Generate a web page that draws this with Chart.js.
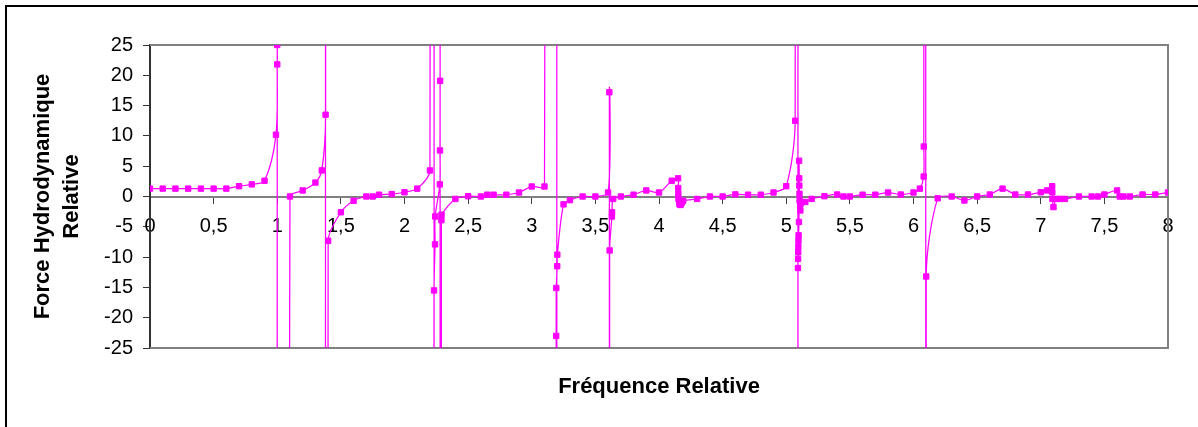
<!DOCTYPE html>
<html>
<head>
<meta charset="utf-8">
<script src="https://cdn.jsdelivr.net/npm/chart.js@4/dist/chart.umd.min.js"></script>
<style>
  html, body { margin: 0; padding: 0; background: #fff; }
  #c { display: block; }
</style>
</head>
<body>
<canvas id="c" width="1198" height="427"></canvas>
<script>
// Relative frequency (x) and relative hydrodynamic force (y).
// Values of +/-1000 stand for the off-scale branches at the resonances.
const freq = [
  0, 0.1, 0.2, 0.3, 0.4, 0.5, 0.6, 0.7, 0.8, 0.9,
  0.99, 1.0, 1.0, 1.0, 1.1, 1.2, 1.3, 1.35, 1.38, 1.38, 1.381,
  1.4, 1.5, 1.6, 1.7, 1.75, 1.8, 1.9, 2.0, 2.1, 2.2,
  2.23, 2.231, 2.232, 2.24, 2.241, 2.278, 2.279, 2.28, 2.28, 2.281, 2.29, 2.291,
  2.4, 2.5, 2.6, 2.65, 2.7, 2.8, 2.9, 3.0, 3.1,
  3.19, 3.191, 3.192, 3.193, 3.2, 3.201, 3.25, 3.3, 3.4, 3.5, 3.6,
  3.61, 3.611, 3.612, 3.63, 3.631, 3.64, 3.7, 3.8, 3.9, 4.0, 4.1,
  4.15, 4.151, 4.152, 4.153, 4.16, 4.161, 4.17, 4.18, 4.19, 4.3, 4.4, 4.5,
  4.6, 4.7, 4.8, 4.9, 5.0, 5.07,
  5.09, 5.091, 5.092, 5.093, 5.094, 5.095, 5.096, 5.097, 5.1, 5.101, 5.102, 5.103,
  5.104, 5.105, 5.11, 5.111, 5.15, 5.2, 5.3, 5.4, 5.45, 5.5, 5.6, 5.7, 5.8, 5.9,
  6.0, 6.05, 6.08, 6.081, 6.095, 6.096, 6.1, 6.19, 6.3, 6.4, 6.5, 6.6, 6.7, 6.8,
  6.9, 7.0, 7.05, 7.09, 7.091, 7.092, 7.1, 7.12, 7.15, 7.19, 7.3, 7.4, 7.45, 7.5,
  7.6, 7.62, 7.65, 7.7, 7.8, 7.9, 8.0
];
const force = [
  1.3, 1.3, 1.3, 1.3, 1.3, 1.3, 1.3, 1.7, 2.0, 2.6,
  10.2, 21.8, 25, -1000, 0, 1.0, 2.3, 4.3, 13.5, 1000, -1000,
  -7.3, -2.6, -0.7, 0, 0, 0.3, 0.4, 0.7, 1.3, 4.3,
  1000, -1000, -15.5, -7.9, -3.3, 2.0, 7.6, 19.1, 1000, -1000, -3.9, -3.0,
  -0.4, 0.05, 0, 0.3, 0.3, 0.3, 0.66, 1.65, 1.65,
  1000, -1000, -23.0, -15.1, -11.5, -9.6, -1.3, -0.6, 0, 0, 0.66,
  17.2, -1000, -8.9, -3.3, -2.6, -0.4, 0, 0.3, 1.0, 0.66, 2.6,
  3.0, 1.4, 0.45, -0.4, -0.9, -1.3, -1.4, -1.0, -0.7, -0.4, 0, 0,
  0.35, 0.3, 0.3, 0.66, 1.7, 12.5,
  1000, -1000, -11.8, -10.3, -9.2, -8.3, -7.3, -6.4, -4.2, 5.9, 3.0, 1.8,
  0.45, -0.66, -1.3, -2.3, -0.9, -0.4, 0.05, 0.33, 0, 0, 0.3, 0.3, 0.66, 0.33,
  0.66, 1.3, 3.3, 8.25, 1000, -1000, -13.2, -0.3, 0, -0.66, 0, 0.33, 1.3, 0.33,
  0.33, 0.7, 1.0, 1.7, 0.7, -0.4, -1.75, -0.4, -0.4, -0.4, 0, 0, 0, 0.33,
  1.0, 0, 0, 0, 0.33, 0.33, 0.66
];
const yRange = [-25, 25];
const xRange = [0, 8];
const yStep = 5;
const xStep = 0.5;
const xTitle = 'Fréquence Relative';
const yTitle = ['Force Hydrodynamique', 'Relative'];

const points = freq.map((f, i) => ({ x: f, y: force[i] }));
const FONT = "'Liberation Sans', Arial, Helvetica, sans-serif";

const framePlugin = {
  id: 'frame',
  beforeDraw(chart) {
    const ctx = chart.ctx;
    ctx.save();
    ctx.fillStyle = '#fff';
    ctx.fillRect(0, 0, chart.width, chart.height);
    ctx.restore();
  },
  beforeDatasetsDraw(chart) {
    const { ctx, chartArea: a } = chart;
    ctx.save();
    ctx.strokeStyle = '#808080';
    ctx.lineWidth = 2;
    ctx.beginPath();
    ctx.moveTo(a.left, a.top);
    ctx.lineTo(a.right, a.top);
    ctx.lineTo(a.right, a.bottom);
    ctx.lineTo(a.left, a.bottom);
    ctx.stroke();
    ctx.strokeStyle = '#000';
    ctx.lineWidth = 2;
    ctx.beginPath();
    ctx.moveTo(6, chart.height + 2);
    ctx.lineTo(6, 6);
    ctx.lineTo(chart.width + 2, 6);
    ctx.stroke();
    ctx.restore();
  }
};

new Chart(document.getElementById('c'), {
  type: 'line',
  data: {
    datasets: [{
      data: points,
      borderColor: '#FF00FF',
      backgroundColor: '#FF00FF',
      borderWidth: 1.25,
      tension: 0.3,
      pointStyle: 'rect',
      pointRadius: 3.8,
      pointBorderWidth: 1,
      pointBorderColor: '#FF00FF',
      pointBackgroundColor: '#FF00FF',
      fill: false
    }]
  },
  options: {
    responsive: false,
    animation: false,
    devicePixelRatio: 1,
    layout: { padding: { left: 0, right: 30, top: 45, bottom: 0 } },
    plugins: { legend: { display: false }, tooltip: { enabled: false } },
    scales: {
      x: {
        type: 'linear',
        position: { y: 0 },
        min: xRange[0], max: xRange[1],
        ticks: {
          stepSize: xStep, autoSkip: false, maxRotation: 0,
          color: '#000', font: { family: FONT, size: 20 }, padding: 12,
          callback: v => String(v).replace('.', ',')
        },
        grid: { drawOnChartArea: false, drawTicks: true, tickLength: 6, color: '#404040', lineWidth: 1 },
        border: { display: true, color: '#808080', width: 2 }
      },
      xb: {
        type: 'linear',
        position: 'bottom',
        min: 0, max: 1,
        ticks: { display: false },
        grid: { display: false },
        border: { display: false },
        title: {
          display: true, text: xTitle, color: '#000',
          font: { family: FONT, size: 22, weight: 'bold' },
          padding: { top: 0, bottom: 27 }
        },
        afterFit(scale) { scale.height = 79; }
      },
      y: {
        type: 'linear',
        position: 'left',
        min: yRange[0], max: yRange[1],
        ticks: { stepSize: yStep, color: '#000', font: { family: FONT, size: 20 }, padding: 10 },
        grid: { drawOnChartArea: false, drawTicks: true, tickLength: 7, color: '#333', lineWidth: 1 },
        border: { display: true, color: '#333', width: 2 },
        title: {
          display: true, text: yTitle, color: '#000',
          font: { family: FONT, size: 22, weight: 'bold', lineHeight: 1.3 },
          padding: { top: 29, bottom: 0 }
        },
        afterFit(scale) { scale.width = 150; }
      }
    }
  },
  plugins: [framePlugin]
});
</script>
</body>
</html>
